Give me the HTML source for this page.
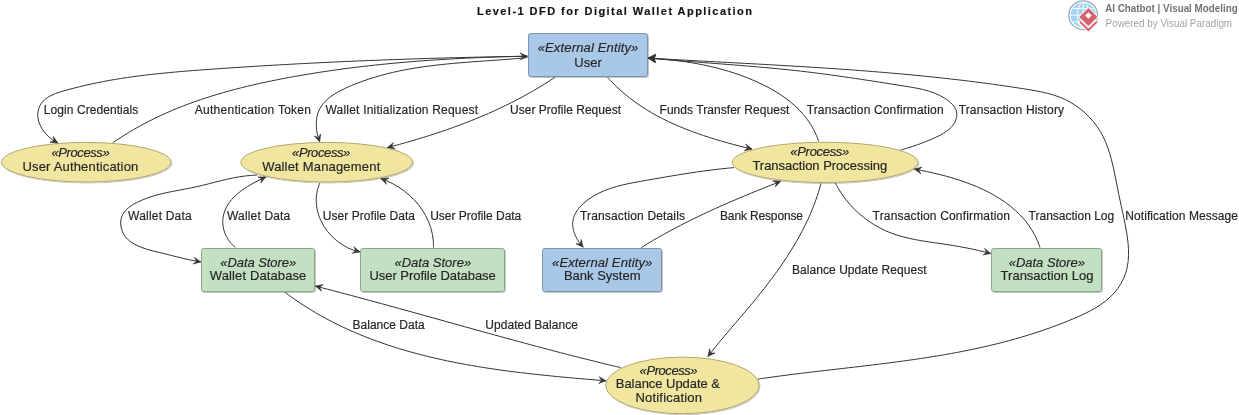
<!DOCTYPE html><html><head><meta charset="utf-8"><style>html,body{margin:0;padding:0;background:#fff;overflow:hidden;width:1239px;height:415px}svg{display:block;will-change:transform}text{font-family:"Liberation Sans",sans-serif;fill:#262626;stroke:#262626;stroke-width:0.18px}</style></head><body>
<svg width="1239" height="415" viewBox="0 0 1239 415">
<defs><filter id="sh" x="-10%" y="-10%" width="130%" height="140%"><feGaussianBlur in="SourceAlpha" stdDeviation="0.6"/><feOffset dx="0.5" dy="1" result="b"/><feComponentTransfer><feFuncA type="linear" slope="0.22"/></feComponentTransfer><feMerge><feMergeNode/><feMergeNode in="SourceGraphic"/></feMerge></filter></defs>
<text x="614.5" y="15" font-size="11" font-weight="bold" text-anchor="middle" textLength="275" lengthAdjust="spacing" style="fill:#111">Level-1 DFD for Digital Wallet Application</text>
<g fill="none" stroke="#333333" stroke-width="1">
<path d="M527.40,56.20 C526.39,56.22 523.36,56.26 521.35,56.30 C519.33,56.33 517.31,56.36 515.29,56.40 C513.27,56.43 511.25,56.47 509.23,56.51 C507.21,56.54 505.19,56.58 503.17,56.62 C501.15,56.66 499.13,56.70 497.11,56.74 C495.09,56.78 493.07,56.82 491.04,56.86 C489.02,56.90 487.00,56.94 484.98,56.99 C482.95,57.03 480.93,57.08 478.91,57.12 C476.88,57.17 474.86,57.21 472.84,57.26 C470.81,57.31 468.79,57.35 466.77,57.40 C464.74,57.45 462.72,57.50 460.69,57.55 C458.67,57.61 456.64,57.66 454.62,57.71 C452.59,57.76 450.57,57.82 448.54,57.87 C446.52,57.93 444.49,57.98 442.46,58.04 C440.44,58.10 438.41,58.15 436.39,58.21 C434.36,58.27 432.33,58.33 430.31,58.39 C428.28,58.45 426.25,58.51 424.23,58.57 C422.20,58.64 420.17,58.70 418.15,58.77 C416.12,58.83 414.09,58.90 412.07,58.96 C410.04,59.03 408.01,59.10 405.98,59.16 C403.96,59.23 401.93,59.30 399.90,59.37 C397.88,59.44 395.85,59.52 393.82,59.59 C391.79,59.66 389.77,59.73 387.74,59.81 C385.71,59.88 383.68,59.96 381.66,60.04 C379.63,60.11 377.60,60.19 375.57,60.27 C373.55,60.35 371.52,60.43 369.49,60.51 C367.46,60.59 365.44,60.67 363.41,60.76 C361.38,60.84 359.36,60.93 357.33,61.01 C355.30,61.10 353.27,61.18 351.25,61.27 C349.22,61.36 347.19,61.45 345.17,61.54 C343.14,61.63 341.11,61.72 339.09,61.81 C337.06,61.90 335.04,62.00 333.01,62.09 C330.98,62.18 328.96,62.28 326.93,62.38 C324.91,62.47 322.88,62.57 320.86,62.67 C318.83,62.77 316.81,62.87 314.78,62.97 C312.76,63.07 310.73,63.17 308.71,63.28 C306.68,63.38 304.66,63.49 302.64,63.59 C300.61,63.70 298.59,63.80 296.56,63.91 C294.54,64.02 292.52,64.13 290.50,64.24 C288.47,64.35 286.45,64.46 284.43,64.58 C282.41,64.69 280.38,64.80 278.36,64.92 C276.34,65.04 274.32,65.15 272.30,65.27 C270.28,65.39 268.26,65.51 266.24,65.63 C264.22,65.75 262.20,65.87 260.18,65.99 C258.16,66.12 256.14,66.24 254.12,66.36 C252.10,66.49 250.09,66.62 248.07,66.74 C246.05,66.87 244.03,67.00 242.02,67.13 C240.00,67.26 237.98,67.39 235.97,67.53 C233.95,67.66 231.94,67.79 229.92,67.93 C227.91,68.06 225.89,68.20 223.88,68.34 C221.86,68.48 219.85,68.62 217.84,68.76 C215.82,68.90 213.81,69.04 211.80,69.18 C209.79,69.33 207.78,69.47 205.77,69.62 C203.76,69.76 201.75,69.91 199.74,70.06 C197.73,70.21 195.72,70.36 193.71,70.52 C191.70,70.67 189.69,70.83 187.68,70.99 C185.68,71.15 183.67,71.31 181.66,71.48 C179.65,71.65 177.65,71.82 175.64,72.00 C173.63,72.18 171.63,72.36 169.62,72.55 C167.61,72.73 165.61,72.93 163.60,73.13 C161.60,73.32 159.59,73.53 157.59,73.74 C155.58,73.95 153.58,74.17 151.57,74.39 C149.56,74.62 147.56,74.85 145.55,75.09 C143.55,75.33 141.54,75.58 139.54,75.84 C137.53,76.10 135.53,76.36 133.52,76.64 C131.52,76.91 129.51,77.20 127.51,77.49 C125.50,77.78 123.50,78.09 121.49,78.40 C119.48,78.72 117.48,79.04 115.47,79.38 C113.47,79.71 111.46,80.06 109.45,80.42 C107.45,80.78 105.44,81.15 103.43,81.53 C101.42,81.92 99.42,82.31 97.41,82.72 C95.40,83.13 93.39,83.55 91.38,83.99 C89.37,84.42 87.36,84.87 85.35,85.34 C83.34,85.80 81.33,86.28 79.32,86.77 C77.31,87.27 75.30,87.77 73.29,88.30 C71.28,88.82 69.26,89.36 67.25,89.92 C65.24,90.48 63.20,91.03 61.22,91.65 C59.24,92.26 57.25,92.89 55.37,93.62 C53.49,94.36 51.63,95.13 49.94,96.06 C48.25,96.98 46.63,97.98 45.21,99.17 C43.79,100.35 42.49,101.66 41.43,103.17 C40.38,104.68 39.48,106.42 38.87,108.22 C38.26,110.02 37.86,112.02 37.76,113.97 C37.67,115.93 37.88,117.97 38.32,119.94 C38.76,121.91 39.51,123.90 40.41,125.78 C41.31,127.66 42.46,129.52 43.72,131.23 C44.98,132.94 46.45,134.57 47.96,136.04 C49.47,137.50 51.14,138.84 52.78,140.00 C54.42,141.16 56.96,142.50 57.80,143.00"/>
<path d="M112.80,142.80 C113.65,142.22 116.21,140.46 117.93,139.32 C119.64,138.19 121.37,137.07 123.11,135.97 C124.84,134.87 126.59,133.79 128.34,132.73 C130.09,131.67 131.85,130.62 133.62,129.60 C135.39,128.57 137.17,127.57 138.95,126.58 C140.73,125.59 142.53,124.62 144.33,123.66 C146.13,122.71 147.93,121.77 149.75,120.85 C151.56,119.93 153.38,119.03 155.21,118.14 C157.04,117.25 158.88,116.38 160.72,115.53 C162.56,114.67 164.41,113.83 166.27,113.01 C168.12,112.19 169.98,111.38 171.85,110.59 C173.72,109.79 175.60,109.02 177.48,108.25 C179.36,107.49 181.24,106.74 183.13,106.01 C185.03,105.27 186.92,104.55 188.83,103.84 C190.73,103.14 192.64,102.44 194.55,101.76 C196.47,101.08 198.39,100.42 200.31,99.76 C202.23,99.11 204.16,98.47 206.10,97.84 C208.03,97.21 209.97,96.59 211.91,95.99 C213.86,95.38 215.80,94.79 217.75,94.21 C219.71,93.63 221.66,93.06 223.62,92.50 C225.58,91.94 227.54,91.39 229.51,90.85 C231.48,90.32 233.45,89.79 235.42,89.27 C237.40,88.76 239.37,88.25 241.35,87.75 C243.33,87.25 245.32,86.77 247.30,86.29 C249.29,85.81 251.28,85.34 253.27,84.88 C255.27,84.42 257.26,83.97 259.26,83.52 C261.25,83.08 263.25,82.65 265.26,82.22 C267.26,81.79 269.26,81.37 271.27,80.96 C273.27,80.55 275.28,80.14 277.29,79.74 C279.30,79.35 281.31,78.96 283.32,78.57 C285.33,78.19 287.35,77.81 289.36,77.44 C291.38,77.07 293.39,76.70 295.41,76.34 C297.43,75.98 299.44,75.63 301.46,75.28 C303.48,74.93 305.50,74.59 307.52,74.25 C309.54,73.92 311.56,73.59 313.59,73.26 C315.61,72.94 317.63,72.62 319.66,72.31 C321.68,71.99 323.71,71.69 325.73,71.38 C327.76,71.08 329.79,70.79 331.82,70.50 C333.84,70.20 335.87,69.92 337.90,69.64 C339.93,69.36 341.96,69.08 343.99,68.81 C346.03,68.55 348.06,68.28 350.09,68.02 C352.12,67.76 354.15,67.51 356.19,67.26 C358.22,67.01 360.26,66.77 362.29,66.53 C364.33,66.29 366.36,66.06 368.40,65.83 C370.43,65.60 372.47,65.37 374.51,65.15 C376.54,64.94 378.58,64.72 380.62,64.51 C382.66,64.30 384.69,64.10 386.73,63.90 C388.77,63.70 390.81,63.50 392.85,63.31 C394.89,63.12 396.93,62.93 398.97,62.75 C401.01,62.56 403.05,62.39 405.09,62.21 C407.13,62.04 409.17,61.87 411.21,61.70 C413.25,61.54 415.29,61.38 417.33,61.22 C419.37,61.06 421.41,60.91 423.46,60.76 C425.50,60.61 427.54,60.47 429.58,60.33 C431.62,60.19 433.66,60.05 435.70,59.92 C437.75,59.78 439.79,59.65 441.83,59.53 C443.87,59.40 445.91,59.28 447.95,59.16 C449.99,59.04 452.03,58.93 454.08,58.82 C456.12,58.71 458.16,58.60 460.20,58.50 C462.24,58.39 464.28,58.29 466.32,58.20 C468.36,58.10 470.40,58.01 472.44,57.91 C474.48,57.82 476.52,57.74 478.56,57.65 C480.59,57.57 482.63,57.49 484.67,57.41 C486.71,57.33 488.75,57.26 490.78,57.19 C492.82,57.11 494.86,57.05 496.90,56.98 C498.93,56.91 500.97,56.85 503.00,56.79 C505.04,56.73 507.07,56.67 509.11,56.62 C511.14,56.56 513.18,56.51 515.21,56.46 C517.24,56.41 519.27,56.37 521.31,56.32 C523.34,56.28 526.38,56.22 527.40,56.20"/>
<path d="M527.40,57.60 C526.38,57.69 523.32,57.99 521.28,58.17 C519.23,58.35 517.19,58.53 515.14,58.70 C513.10,58.87 511.05,59.03 509.00,59.19 C506.95,59.35 504.90,59.51 502.85,59.66 C500.80,59.81 498.74,59.96 496.69,60.11 C494.64,60.25 492.58,60.40 490.53,60.54 C488.48,60.69 486.42,60.83 484.37,60.97 C482.31,61.12 480.26,61.26 478.20,61.41 C476.15,61.56 474.09,61.71 472.04,61.86 C469.99,62.01 467.93,62.17 465.88,62.33 C463.82,62.49 461.77,62.66 459.72,62.83 C457.67,63.00 455.62,63.18 453.57,63.36 C451.52,63.55 449.47,63.74 447.42,63.94 C445.37,64.14 443.33,64.35 441.28,64.57 C439.24,64.79 437.20,65.02 435.16,65.26 C433.12,65.50 431.08,65.75 429.04,66.02 C427.00,66.28 424.97,66.56 422.94,66.85 C420.91,67.14 418.88,67.45 416.85,67.77 C414.82,68.09 412.80,68.42 410.78,68.78 C408.76,69.13 406.74,69.50 404.72,69.88 C402.71,70.27 400.70,70.67 398.69,71.10 C396.68,71.52 394.68,71.96 392.68,72.43 C390.68,72.89 388.68,73.37 386.69,73.88 C384.69,74.39 382.70,74.91 380.72,75.46 C378.73,76.02 376.75,76.59 374.78,77.19 C372.80,77.79 370.83,78.41 368.87,79.06 C366.90,79.71 364.94,80.38 362.98,81.08 C361.02,81.78 359.07,82.51 357.13,83.27 C355.18,84.03 353.24,84.81 351.31,85.63 C349.37,86.44 347.43,87.28 345.52,88.17 C343.62,89.05 341.71,89.96 339.87,90.94 C338.04,91.91 336.22,92.92 334.50,94.01 C332.78,95.10 331.11,96.25 329.56,97.48 C328.00,98.71 326.52,100.00 325.18,101.40 C323.85,102.80 322.60,104.27 321.53,105.86 C320.46,107.45 319.51,109.13 318.75,110.94 C317.99,112.75 317.39,114.68 316.98,116.71 C316.58,118.73 316.37,120.93 316.30,123.10 C316.24,125.27 316.37,127.54 316.61,129.71 C316.86,131.88 317.27,134.08 317.79,136.09 C318.30,138.11 319.38,140.85 319.70,141.80"/>
<path d="M554.90,77.30 C554.02,77.88 551.39,79.63 549.63,80.77 C547.86,81.92 546.09,83.04 544.31,84.16 C542.53,85.27 540.73,86.36 538.94,87.45 C537.14,88.53 535.33,89.60 533.52,90.65 C531.70,91.71 529.88,92.74 528.05,93.77 C526.23,94.80 524.39,95.81 522.55,96.80 C520.70,97.80 518.85,98.78 516.99,99.75 C515.14,100.72 513.27,101.68 511.40,102.63 C509.53,103.57 507.65,104.50 505.77,105.42 C503.89,106.34 502.00,107.24 500.10,108.13 C498.21,109.02 496.30,109.90 494.40,110.77 C492.49,111.64 490.57,112.50 488.66,113.34 C486.74,114.18 484.81,115.01 482.88,115.84 C480.95,116.66 479.02,117.46 477.08,118.26 C475.14,119.06 473.20,119.85 471.25,120.62 C469.30,121.40 467.34,122.16 465.38,122.91 C463.43,123.67 461.46,124.41 459.50,125.14 C457.53,125.88 455.56,126.60 453.59,127.31 C451.61,128.02 449.63,128.73 447.65,129.42 C445.67,130.11 443.68,130.79 441.69,131.47 C439.71,132.14 437.71,132.80 435.72,133.46 C433.72,134.12 431.73,134.76 429.72,135.40 C427.72,136.04 425.72,136.66 423.71,137.28 C421.71,137.90 419.70,138.52 417.69,139.12 C415.68,139.72 413.67,140.32 411.65,140.91 C409.64,141.49 407.62,142.07 405.60,142.65 C403.58,143.22 401.56,143.78 399.54,144.34 C397.52,144.90 395.50,145.45 393.47,145.99 C391.45,146.53 388.41,147.33 387.40,147.60"/>
<path d="M607.60,77.40 C608.33,78.18 610.48,80.56 611.96,82.09 C613.43,83.63 614.94,85.12 616.46,86.58 C617.99,88.05 619.54,89.47 621.11,90.87 C622.69,92.27 624.28,93.63 625.90,94.97 C627.52,96.30 629.16,97.60 630.82,98.87 C632.48,100.14 634.16,101.38 635.86,102.60 C637.56,103.81 639.28,104.99 641.01,106.15 C642.75,107.30 644.51,108.43 646.28,109.53 C648.05,110.63 649.84,111.70 651.65,112.75 C653.45,113.80 655.28,114.82 657.11,115.82 C658.95,116.81 660.80,117.78 662.67,118.73 C664.53,119.68 666.41,120.61 668.30,121.51 C670.19,122.41 672.10,123.29 674.01,124.15 C675.93,125.01 677.85,125.84 679.79,126.66 C681.73,127.47 683.68,128.27 685.63,129.05 C687.59,129.82 689.55,130.58 691.53,131.32 C693.50,132.06 695.48,132.78 697.47,133.48 C699.46,134.19 701.46,134.87 703.46,135.54 C705.46,136.21 707.46,136.87 709.48,137.50 C711.49,138.14 713.50,138.77 715.52,139.38 C717.54,139.99 719.57,140.59 721.59,141.17 C723.61,141.75 725.64,142.32 727.67,142.88 C729.70,143.44 731.73,143.99 733.76,144.53 C735.79,145.06 737.82,145.59 739.85,146.11 C741.88,146.62 743.91,147.13 745.93,147.63 C747.96,148.13 750.99,148.85 752.00,149.10"/>
<path d="M818.70,141.40 C818.32,140.39 817.24,137.32 816.40,135.36 C815.56,133.40 814.65,131.49 813.67,129.64 C812.70,127.79 811.66,125.99 810.56,124.25 C809.46,122.50 808.29,120.80 807.08,119.16 C805.86,117.51 804.58,115.91 803.25,114.36 C801.93,112.81 800.55,111.30 799.12,109.84 C797.69,108.38 796.22,106.97 794.70,105.60 C793.18,104.22 791.62,102.89 790.02,101.60 C788.42,100.31 786.78,99.07 785.11,97.86 C783.43,96.64 781.72,95.47 779.99,94.34 C778.25,93.20 776.48,92.10 774.69,91.04 C772.89,89.97 771.07,88.94 769.23,87.94 C767.40,86.95 765.53,85.98 763.66,85.04 C761.78,84.11 759.88,83.20 757.98,82.33 C756.07,81.45 754.15,80.60 752.21,79.78 C750.28,78.96 748.33,78.17 746.37,77.40 C744.41,76.64 742.44,75.90 740.46,75.19 C738.48,74.48 736.48,73.79 734.48,73.13 C732.48,72.47 730.47,71.84 728.45,71.23 C726.43,70.62 724.40,70.03 722.37,69.47 C720.34,68.91 718.30,68.37 716.25,67.86 C714.20,67.34 712.15,66.85 710.10,66.38 C708.04,65.91 705.98,65.47 703.91,65.04 C701.85,64.61 699.78,64.21 697.71,63.83 C695.65,63.44 693.57,63.08 691.50,62.73 C689.43,62.39 687.36,62.06 685.29,61.76 C683.21,61.45 681.14,61.17 679.07,60.90 C677.00,60.63 674.93,60.38 672.87,60.14 C670.80,59.91 668.74,59.69 666.68,59.49 C664.62,59.29 662.57,59.11 660.52,58.94 C658.47,58.77 656.43,58.61 654.39,58.47 C652.35,58.33 649.32,58.16 648.30,58.10"/>
<path d="M900.30,150.10 C901.31,149.81 904.40,148.94 906.37,148.35 C908.34,147.76 910.25,147.17 912.15,146.56 C914.04,145.95 915.89,145.33 917.75,144.67 C919.60,144.02 921.43,143.35 923.29,142.63 C925.15,141.91 927.00,141.17 928.90,140.37 C930.80,139.57 932.75,138.74 934.70,137.84 C936.65,136.93 938.69,135.99 940.61,134.94 C942.53,133.89 944.47,132.78 946.21,131.54 C947.94,130.30 949.63,128.97 951.03,127.49 C952.43,126.01 953.69,124.37 954.61,122.68 C955.53,120.98 956.24,119.12 956.57,117.33 C956.90,115.53 956.95,113.65 956.58,111.91 C956.22,110.16 955.42,108.44 954.38,106.86 C953.35,105.27 951.87,103.77 950.36,102.40 C948.85,101.02 947.05,99.74 945.30,98.59 C943.55,97.44 941.72,96.41 939.87,95.48 C938.03,94.54 936.14,93.73 934.23,92.98 C932.31,92.24 930.36,91.59 928.40,91.00 C926.43,90.40 924.44,89.90 922.43,89.42 C920.43,88.94 918.40,88.54 916.37,88.14 C914.34,87.75 912.30,87.41 910.25,87.06 C908.21,86.72 906.16,86.40 904.12,86.07 C902.08,85.75 900.04,85.42 898.00,85.10 C895.97,84.78 893.93,84.45 891.90,84.13 C889.87,83.81 887.84,83.49 885.82,83.17 C883.79,82.85 881.77,82.53 879.75,82.21 C877.72,81.89 875.71,81.57 873.69,81.26 C871.67,80.95 869.65,80.63 867.64,80.32 C865.62,80.01 863.61,79.70 861.60,79.40 C859.59,79.09 857.58,78.79 855.57,78.49 C853.56,78.19 851.55,77.89 849.54,77.59 C847.53,77.30 845.52,77.01 843.51,76.72 C841.50,76.43 839.49,76.14 837.49,75.86 C835.48,75.58 833.47,75.30 831.46,75.02 C829.45,74.75 827.44,74.48 825.43,74.21 C823.42,73.94 821.41,73.68 819.40,73.42 C817.39,73.16 815.37,72.91 813.36,72.66 C811.34,72.41 809.33,72.16 807.31,71.92 C805.29,71.68 803.27,71.44 801.25,71.21 C799.23,70.98 797.20,70.76 795.18,70.54 C793.16,70.32 791.13,70.10 789.10,69.89 C787.07,69.68 785.04,69.47 783.01,69.26 C780.98,69.06 778.95,68.86 776.92,68.66 C774.88,68.46 772.85,68.27 770.81,68.08 C768.78,67.89 766.74,67.71 764.70,67.52 C762.67,67.34 760.63,67.16 758.59,66.98 C756.55,66.80 754.51,66.63 752.47,66.45 C750.43,66.28 748.39,66.11 746.34,65.94 C744.30,65.77 742.26,65.61 740.22,65.44 C738.18,65.27 736.13,65.11 734.09,64.95 C732.05,64.79 730.00,64.63 727.96,64.47 C725.91,64.31 723.87,64.15 721.83,63.99 C719.78,63.83 717.74,63.68 715.70,63.52 C713.65,63.36 711.61,63.21 709.57,63.05 C707.52,62.90 705.48,62.74 703.44,62.58 C701.39,62.43 699.35,62.27 697.31,62.12 C695.27,61.96 693.23,61.80 691.19,61.64 C689.15,61.49 687.11,61.33 685.07,61.17 C683.03,61.01 680.99,60.85 678.96,60.68 C676.92,60.52 674.89,60.36 672.85,60.19 C670.82,60.03 668.78,59.86 666.75,59.69 C664.72,59.52 662.69,59.35 660.66,59.17 C658.63,59.00 656.60,58.82 654.57,58.64 C652.55,58.47 649.51,58.19 648.50,58.10"/>
<path d="M758.00,379.10 C759.01,378.95 762.02,378.51 764.03,378.22 C766.05,377.93 768.06,377.64 770.07,377.36 C772.08,377.08 774.10,376.81 776.11,376.54 C778.12,376.26 780.13,375.99 782.15,375.73 C784.16,375.46 786.17,375.20 788.18,374.95 C790.19,374.69 792.21,374.43 794.22,374.18 C796.23,373.93 798.24,373.68 800.26,373.43 C802.27,373.18 804.28,372.94 806.29,372.70 C808.31,372.45 810.32,372.21 812.33,371.98 C814.34,371.74 816.35,371.50 818.36,371.26 C820.37,371.03 822.39,370.79 824.40,370.56 C826.41,370.33 828.42,370.09 830.43,369.86 C832.44,369.63 834.45,369.40 836.46,369.17 C838.47,368.93 840.48,368.70 842.49,368.47 C844.50,368.24 846.50,368.01 848.51,367.78 C850.52,367.54 852.53,367.31 854.54,367.08 C856.54,366.85 858.55,366.61 860.56,366.38 C862.56,366.14 864.57,365.90 866.58,365.66 C868.58,365.42 870.59,365.18 872.59,364.94 C874.60,364.70 876.60,364.46 878.60,364.21 C880.61,363.96 882.61,363.71 884.61,363.46 C886.61,363.21 888.61,362.95 890.61,362.70 C892.62,362.44 894.62,362.18 896.61,361.91 C898.61,361.65 900.61,361.38 902.61,361.11 C904.61,360.84 906.61,360.56 908.60,360.28 C910.60,360.00 912.59,359.72 914.59,359.43 C916.58,359.14 918.58,358.85 920.57,358.55 C922.56,358.25 924.55,357.95 926.55,357.64 C928.54,357.33 930.53,357.01 932.52,356.69 C934.51,356.37 936.49,356.05 938.48,355.72 C940.47,355.39 942.46,355.05 944.44,354.70 C946.43,354.36 948.41,354.01 950.39,353.65 C952.38,353.29 954.36,352.93 956.34,352.56 C958.32,352.19 960.30,351.81 962.28,351.42 C964.26,351.03 966.24,350.64 968.21,350.24 C970.19,349.84 972.17,349.43 974.14,349.01 C976.11,348.59 978.09,348.17 980.06,347.73 C982.03,347.29 984.00,346.85 985.97,346.40 C987.94,345.95 989.91,345.48 991.87,345.01 C993.84,344.54 995.80,344.06 997.77,343.57 C999.73,343.08 1001.69,342.58 1003.65,342.07 C1005.61,341.56 1007.57,341.04 1009.53,340.51 C1011.49,339.97 1013.45,339.43 1015.40,338.88 C1017.36,338.33 1019.31,337.76 1021.26,337.19 C1023.21,336.61 1025.17,336.03 1027.11,335.43 C1029.06,334.83 1031.01,334.22 1032.96,333.60 C1034.90,332.98 1036.85,332.35 1038.79,331.70 C1040.73,331.06 1042.67,330.40 1044.61,329.73 C1046.55,329.06 1048.49,328.37 1050.42,327.68 C1052.36,326.98 1054.29,326.27 1056.22,325.55 C1058.16,324.82 1060.09,324.09 1062.02,323.33 C1063.94,322.58 1065.87,321.82 1067.80,321.04 C1069.72,320.26 1071.65,319.47 1073.56,318.66 C1075.48,317.85 1077.40,317.02 1079.29,316.17 C1081.19,315.32 1083.07,314.45 1084.93,313.55 C1086.79,312.64 1088.63,311.72 1090.43,310.75 C1092.23,309.78 1094.01,308.79 1095.75,307.75 C1097.48,306.71 1099.18,305.63 1100.83,304.51 C1102.47,303.38 1104.08,302.21 1105.62,300.99 C1107.16,299.77 1108.66,298.50 1110.08,297.17 C1111.51,295.84 1112.88,294.46 1114.16,293.01 C1115.45,291.57 1116.67,290.06 1117.81,288.48 C1118.95,286.91 1120.01,285.27 1120.98,283.58 C1121.95,281.90 1122.84,280.15 1123.64,278.37 C1124.43,276.59 1125.13,274.75 1125.73,272.89 C1126.33,271.04 1126.83,269.14 1127.23,267.22 C1127.64,265.31 1127.93,263.36 1128.15,261.40 C1128.37,259.43 1128.49,257.45 1128.55,255.45 C1128.61,253.45 1128.58,251.43 1128.51,249.40 C1128.43,247.37 1128.27,245.33 1128.08,243.29 C1127.89,241.24 1127.63,239.19 1127.35,237.14 C1127.06,235.08 1126.73,233.02 1126.37,230.97 C1126.02,228.92 1125.63,226.87 1125.23,224.83 C1124.83,222.79 1124.41,220.75 1123.99,218.73 C1123.56,216.71 1123.13,214.70 1122.71,212.70 C1122.28,210.70 1121.85,208.71 1121.42,206.73 C1120.99,204.75 1120.57,202.77 1120.15,200.80 C1119.73,198.82 1119.31,196.85 1118.89,194.87 C1118.48,192.89 1118.08,190.91 1117.68,188.92 C1117.28,186.93 1116.90,184.94 1116.50,182.94 C1116.11,180.95 1115.72,178.95 1115.32,176.95 C1114.92,174.96 1114.52,172.96 1114.09,170.97 C1113.67,168.98 1113.23,166.99 1112.77,165.02 C1112.30,163.05 1111.82,161.08 1111.30,159.13 C1110.78,157.18 1110.23,155.24 1109.64,153.32 C1109.05,151.40 1108.43,149.50 1107.75,147.62 C1107.08,145.74 1106.36,143.87 1105.58,142.04 C1104.81,140.21 1103.98,138.40 1103.09,136.62 C1102.19,134.84 1101.24,133.09 1100.22,131.37 C1099.20,129.66 1098.10,127.97 1096.94,126.33 C1095.78,124.69 1094.54,123.08 1093.25,121.52 C1091.96,119.95 1090.61,118.43 1089.20,116.96 C1087.79,115.49 1086.32,114.07 1084.80,112.70 C1083.29,111.34 1081.72,110.02 1080.11,108.77 C1078.50,107.52 1076.84,106.32 1075.15,105.19 C1073.46,104.07 1071.72,103.00 1069.96,102.01 C1068.20,101.01 1066.40,100.09 1064.57,99.24 C1062.75,98.39 1060.89,97.62 1059.02,96.91 C1057.15,96.19 1055.25,95.55 1053.33,94.96 C1051.41,94.36 1049.48,93.83 1047.53,93.33 C1045.58,92.83 1043.61,92.38 1041.63,91.96 C1039.65,91.54 1037.66,91.16 1035.67,90.79 C1033.67,90.42 1031.67,90.08 1029.66,89.75 C1027.66,89.42 1025.65,89.10 1023.64,88.78 C1021.63,88.47 1019.62,88.15 1017.62,87.85 C1015.61,87.54 1013.60,87.23 1011.59,86.93 C1009.58,86.63 1007.57,86.34 1005.56,86.04 C1003.55,85.75 1001.54,85.46 999.53,85.18 C997.52,84.89 995.51,84.61 993.50,84.33 C991.49,84.06 989.48,83.78 987.47,83.51 C985.46,83.24 983.45,82.98 981.44,82.71 C979.43,82.45 977.41,82.19 975.40,81.94 C973.39,81.68 971.38,81.43 969.37,81.18 C967.36,80.93 965.35,80.69 963.33,80.44 C961.32,80.20 959.31,79.96 957.30,79.73 C955.29,79.49 953.27,79.26 951.26,79.03 C949.25,78.80 947.24,78.58 945.22,78.35 C943.21,78.13 941.20,77.91 939.18,77.70 C937.17,77.48 935.16,77.27 933.15,77.05 C931.13,76.84 929.12,76.64 927.10,76.43 C925.09,76.23 923.08,76.02 921.06,75.82 C919.05,75.63 917.04,75.43 915.02,75.23 C913.01,75.04 910.99,74.85 908.98,74.66 C906.96,74.47 904.95,74.29 902.93,74.10 C900.92,73.92 898.90,73.74 896.89,73.56 C894.87,73.38 892.86,73.20 890.84,73.03 C888.83,72.86 886.81,72.68 884.80,72.52 C882.78,72.35 880.77,72.18 878.75,72.01 C876.73,71.85 874.72,71.69 872.70,71.53 C870.69,71.36 868.67,71.21 866.65,71.05 C864.64,70.89 862.62,70.74 860.60,70.59 C858.59,70.43 856.57,70.28 854.55,70.13 C852.54,69.98 850.52,69.84 848.50,69.69 C846.49,69.55 844.47,69.40 842.45,69.26 C840.44,69.12 838.42,68.98 836.40,68.84 C834.38,68.70 832.37,68.57 830.35,68.43 C828.33,68.30 826.31,68.16 824.29,68.03 C822.28,67.90 820.26,67.77 818.24,67.64 C816.22,67.51 814.20,67.38 812.18,67.25 C810.17,67.12 808.15,67.00 806.13,66.87 C804.11,66.75 802.09,66.62 800.07,66.50 C798.05,66.38 796.04,66.26 794.02,66.14 C792.00,66.02 789.98,65.90 787.96,65.78 C785.94,65.66 783.92,65.54 781.90,65.43 C779.88,65.31 777.86,65.20 775.84,65.08 C773.82,64.97 771.80,64.85 769.78,64.74 C767.76,64.63 765.74,64.51 763.72,64.40 C761.70,64.29 759.68,64.18 757.66,64.07 C755.64,63.95 753.62,63.84 751.60,63.73 C749.58,63.62 747.56,63.51 745.54,63.41 C743.52,63.30 741.50,63.19 739.48,63.08 C737.46,62.97 735.44,62.86 733.42,62.75 C731.40,62.65 729.38,62.54 727.35,62.43 C725.33,62.32 723.31,62.21 721.29,62.11 C719.27,62.00 717.25,61.89 715.23,61.78 C713.21,61.68 711.18,61.57 709.16,61.46 C707.14,61.35 705.12,61.24 703.10,61.14 C701.08,61.03 699.06,60.92 697.03,60.81 C695.01,60.70 692.99,60.59 690.97,60.48 C688.95,60.37 686.92,60.26 684.90,60.15 C682.88,60.04 680.86,59.93 678.84,59.82 C676.81,59.71 674.79,59.60 672.77,59.49 C670.75,59.37 668.73,59.26 666.70,59.15 C664.68,59.03 662.66,58.92 660.64,58.80 C658.61,58.69 656.59,58.57 654.57,58.45 C652.55,58.34 649.51,58.16 648.50,58.10"/>
<path d="M256.90,175.10 C255.87,175.15 252.77,175.25 250.71,175.41 C248.66,175.57 246.61,175.79 244.57,176.05 C242.53,176.30 240.50,176.62 238.47,176.96 C236.44,177.30 234.42,177.69 232.40,178.10 C230.38,178.51 228.36,178.96 226.35,179.41 C224.34,179.87 222.33,180.36 220.33,180.85 C218.33,181.34 216.32,181.85 214.32,182.36 C212.32,182.86 210.32,183.38 208.33,183.88 C206.33,184.39 204.33,184.89 202.33,185.38 C200.34,185.86 198.34,186.34 196.34,186.79 C194.34,187.24 192.34,187.66 190.34,188.07 C188.34,188.47 186.33,188.85 184.33,189.23 C182.33,189.61 180.32,189.96 178.32,190.34 C176.32,190.71 174.31,191.08 172.31,191.48 C170.30,191.87 168.30,192.27 166.30,192.70 C164.30,193.14 162.30,193.59 160.30,194.09 C158.30,194.60 156.31,195.13 154.31,195.72 C152.32,196.31 150.33,196.94 148.34,197.64 C146.35,198.35 144.36,199.10 142.38,199.94 C140.41,200.79 138.39,201.69 136.48,202.69 C134.57,203.69 132.65,204.77 130.93,205.97 C129.21,207.17 127.56,208.46 126.19,209.89 C124.82,211.32 123.58,212.86 122.70,214.54 C121.83,216.23 121.22,218.11 120.92,220.01 C120.63,221.92 120.66,224.02 120.93,225.99 C121.20,227.95 121.77,230.00 122.52,231.81 C123.28,233.62 124.31,235.33 125.49,236.85 C126.67,238.38 128.07,239.73 129.60,240.97 C131.12,242.20 132.83,243.29 134.62,244.28 C136.40,245.28 138.34,246.15 140.32,246.95 C142.30,247.75 144.39,248.45 146.47,249.11 C148.56,249.76 150.73,250.33 152.85,250.89 C154.98,251.45 157.14,251.95 159.22,252.45 C161.30,252.96 163.36,253.44 165.35,253.92 C167.35,254.41 169.26,254.90 171.18,255.39 C173.09,255.87 174.95,256.35 176.83,256.82 C178.71,257.30 180.56,257.76 182.46,258.22 C184.36,258.67 186.26,259.11 188.23,259.54 C190.20,259.97 192.20,260.38 194.29,260.77 C196.39,261.17 199.72,261.71 200.80,261.90"/>
<path d="M235.40,247.60 C234.56,246.74 231.83,244.27 230.34,242.44 C228.86,240.61 227.56,238.62 226.49,236.60 C225.42,234.57 224.56,232.43 223.94,230.30 C223.33,228.17 222.94,225.96 222.80,223.79 C222.66,221.62 222.78,219.42 223.10,217.28 C223.43,215.14 224.00,213.01 224.75,210.97 C225.50,208.92 226.48,206.92 227.62,205.03 C228.76,203.13 230.12,201.32 231.58,199.60 C233.05,197.88 234.70,196.24 236.42,194.68 C238.14,193.13 240.01,191.65 241.91,190.25 C243.81,188.86 245.82,187.54 247.82,186.29 C249.83,185.05 251.91,183.88 253.94,182.78 C255.98,181.68 258.05,180.65 260.04,179.69 C262.04,178.73 264.92,177.45 265.90,177.00"/>
<path d="M319.70,183.20 C319.34,184.26 318.09,187.41 317.55,189.54 C317.00,191.66 316.63,193.80 316.42,195.93 C316.20,198.06 316.16,200.19 316.26,202.31 C316.35,204.42 316.61,206.53 317.00,208.60 C317.38,210.67 317.92,212.73 318.57,214.75 C319.23,216.76 320.02,218.74 320.93,220.67 C321.83,222.60 322.86,224.49 323.99,226.31 C325.12,228.13 326.37,229.90 327.70,231.59 C329.03,233.28 330.48,234.91 331.99,236.44 C333.51,237.98 335.13,239.44 336.81,240.80 C338.49,242.16 340.26,243.43 342.08,244.59 C343.90,245.75 345.80,246.82 347.74,247.75 C349.69,248.69 351.70,249.52 353.74,250.21 C355.78,250.90 358.96,251.62 360.00,251.90"/>
<path d="M433.50,247.60 C433.47,246.47 433.49,243.05 433.31,240.82 C433.13,238.59 432.82,236.38 432.40,234.22 C431.98,232.05 431.44,229.91 430.81,227.82 C430.17,225.73 429.42,223.67 428.58,221.66 C427.73,219.64 426.79,217.67 425.75,215.75 C424.72,213.83 423.59,211.95 422.38,210.13 C421.17,208.31 419.87,206.54 418.50,204.82 C417.14,203.11 415.68,201.45 414.17,199.85 C412.65,198.26 411.06,196.72 409.41,195.25 C407.76,193.78 406.04,192.37 404.28,191.03 C402.51,189.70 400.69,188.43 398.82,187.23 C396.95,186.04 395.03,184.92 393.07,183.88 C391.12,182.84 389.12,181.87 387.09,180.99 C385.06,180.11 381.93,179.00 380.90,178.60"/>
<path d="M734.00,167.60 C732.95,167.70 729.79,167.98 727.69,168.18 C725.59,168.39 723.50,168.61 721.42,168.84 C719.33,169.06 717.26,169.30 715.18,169.55 C713.11,169.80 711.04,170.06 708.98,170.32 C706.91,170.59 704.85,170.86 702.79,171.15 C700.73,171.43 698.68,171.72 696.63,172.02 C694.58,172.32 692.53,172.63 690.48,172.94 C688.43,173.25 686.38,173.57 684.34,173.89 C682.29,174.22 680.25,174.54 678.20,174.88 C676.15,175.21 674.11,175.55 672.06,175.89 C670.02,176.24 667.97,176.58 665.92,176.93 C663.87,177.28 661.82,177.63 659.76,177.99 C657.71,178.34 655.65,178.70 653.59,179.06 C651.53,179.42 649.47,179.78 647.40,180.14 C645.34,180.50 643.26,180.85 641.19,181.22 C639.12,181.59 637.04,181.95 634.96,182.34 C632.89,182.73 630.82,183.13 628.75,183.56 C626.69,184.00 624.63,184.44 622.59,184.94 C620.55,185.43 618.51,185.95 616.49,186.52 C614.48,187.10 612.47,187.71 610.50,188.38 C608.52,189.06 606.56,189.78 604.62,190.57 C602.69,191.36 600.78,192.21 598.90,193.14 C597.03,194.08 595.17,195.07 593.36,196.16 C591.55,197.25 589.74,198.43 588.03,199.68 C586.33,200.94 584.64,202.29 583.11,203.71 C581.57,205.13 580.11,206.63 578.84,208.21 C577.57,209.79 576.41,211.45 575.50,213.17 C574.58,214.90 573.82,216.70 573.35,218.56 C572.87,220.43 572.63,222.38 572.65,224.36 C572.68,226.33 573.00,228.41 573.51,230.43 C574.02,232.45 574.80,234.52 575.72,236.48 C576.63,238.44 577.78,240.39 579.02,242.18 C580.27,243.96 582.51,246.36 583.20,247.20"/>
<path d="M641.20,247.60 C642.11,247.04 644.85,245.33 646.69,244.22 C648.53,243.10 650.37,242.00 652.22,240.91 C654.07,239.82 655.93,238.74 657.79,237.67 C659.66,236.60 661.52,235.55 663.40,234.50 C665.28,233.45 667.16,232.42 669.04,231.40 C670.93,230.37 672.82,229.36 674.72,228.35 C676.62,227.35 678.52,226.35 680.43,225.37 C682.34,224.38 684.25,223.41 686.17,222.44 C688.09,221.48 690.01,220.52 691.94,219.57 C693.87,218.62 695.80,217.69 697.74,216.75 C699.67,215.82 701.61,214.90 703.56,213.99 C705.50,213.07 707.45,212.16 709.40,211.26 C711.35,210.36 713.31,209.47 715.27,208.58 C717.23,207.70 719.19,206.82 721.15,205.95 C723.12,205.08 725.09,204.21 727.06,203.35 C729.03,202.49 731.00,201.64 732.98,200.79 C734.95,199.94 736.93,199.10 738.91,198.26 C740.89,197.43 742.87,196.59 744.86,195.77 C746.84,194.94 748.83,194.12 750.81,193.30 C752.80,192.48 754.79,191.67 756.78,190.86 C758.77,190.05 760.76,189.24 762.75,188.44 C764.75,187.64 766.74,186.84 768.73,186.04 C770.73,185.25 772.72,184.45 774.72,183.66 C776.71,182.87 779.70,181.69 780.70,181.30"/>
<path d="M820.90,183.60 C820.62,184.62 819.81,187.68 819.21,189.70 C818.62,191.72 817.99,193.73 817.33,195.73 C816.67,197.73 815.98,199.72 815.26,201.69 C814.55,203.67 813.80,205.63 813.02,207.58 C812.25,209.54 811.45,211.48 810.62,213.41 C809.79,215.34 808.93,217.26 808.05,219.16 C807.17,221.07 806.26,222.97 805.34,224.86 C804.41,226.74 803.46,228.62 802.48,230.48 C801.51,232.35 800.51,234.20 799.49,236.05 C798.48,237.89 797.44,239.73 796.38,241.55 C795.33,243.38 794.25,245.19 793.16,247.00 C792.07,248.80 790.96,250.59 789.83,252.38 C788.70,254.16 787.56,255.94 786.40,257.70 C785.24,259.47 784.07,261.23 782.88,262.97 C781.70,264.72 780.50,266.46 779.29,268.19 C778.07,269.91 776.85,271.63 775.61,273.34 C774.38,275.05 773.13,276.76 771.87,278.45 C770.61,280.14 769.33,281.83 768.05,283.51 C766.77,285.18 765.48,286.85 764.18,288.51 C762.88,290.17 761.57,291.82 760.25,293.47 C758.93,295.12 757.60,296.75 756.27,298.39 C754.94,300.02 753.60,301.65 752.25,303.27 C750.91,304.89 749.55,306.50 748.20,308.11 C746.84,309.73 745.48,311.33 744.12,312.94 C742.75,314.54 741.39,316.14 740.02,317.74 C738.65,319.34 737.28,320.94 735.92,322.53 C734.55,324.13 733.18,325.73 731.82,327.33 C730.45,328.93 729.09,330.53 727.73,332.13 C726.37,333.74 725.02,335.34 723.67,336.96 C722.33,338.57 720.98,340.18 719.65,341.81 C718.32,343.43 716.99,345.05 715.67,346.69 C714.36,348.32 713.05,349.97 711.75,351.62 C710.46,353.27 708.54,355.77 707.90,356.60"/>
<path d="M835.40,183.20 C835.92,184.13 837.41,186.96 838.50,188.79 C839.59,190.62 840.74,192.42 841.94,194.18 C843.15,195.93 844.41,197.66 845.72,199.34 C847.03,201.02 848.39,202.66 849.80,204.26 C851.21,205.85 852.67,207.41 854.17,208.92 C855.67,210.43 857.22,211.89 858.81,213.31 C860.40,214.72 862.03,216.09 863.70,217.41 C865.37,218.73 867.08,220.00 868.82,221.21 C870.56,222.42 872.34,223.59 874.14,224.69 C875.95,225.79 877.79,226.85 879.65,227.84 C881.52,228.83 883.41,229.76 885.33,230.63 C887.25,231.50 889.19,232.31 891.16,233.06 C893.12,233.82 895.11,234.50 897.11,235.14 C899.11,235.78 901.14,236.35 903.17,236.90 C905.21,237.44 907.26,237.93 909.32,238.39 C911.39,238.85 913.46,239.27 915.55,239.67 C917.63,240.07 919.73,240.43 921.83,240.79 C923.93,241.14 926.03,241.46 928.14,241.79 C930.25,242.11 932.36,242.41 934.47,242.72 C936.59,243.03 938.70,243.33 940.81,243.64 C942.91,243.95 945.02,244.26 947.12,244.59 C949.22,244.91 951.32,245.25 953.41,245.59 C955.51,245.94 957.60,246.30 959.68,246.67 C961.77,247.04 963.85,247.42 965.93,247.82 C968.01,248.22 970.08,248.64 972.15,249.07 C974.22,249.51 976.29,249.95 978.36,250.43 C980.42,250.90 982.48,251.39 984.54,251.90 C986.59,252.41 989.67,253.23 990.70,253.50"/>
<path d="M1040.00,247.60 C1039.61,246.55 1038.50,243.33 1037.64,241.28 C1036.78,239.23 1035.85,237.24 1034.85,235.31 C1033.85,233.37 1032.77,231.50 1031.64,229.67 C1030.51,227.85 1029.31,226.08 1028.06,224.37 C1026.80,222.65 1025.48,220.99 1024.11,219.38 C1022.74,217.77 1021.31,216.20 1019.83,214.69 C1018.36,213.18 1016.83,211.71 1015.25,210.30 C1013.68,208.88 1012.05,207.51 1010.39,206.18 C1008.73,204.85 1007.02,203.57 1005.28,202.33 C1003.53,201.09 1001.75,199.89 999.93,198.73 C998.12,197.58 996.27,196.46 994.39,195.38 C992.51,194.30 990.60,193.26 988.66,192.26 C986.73,191.26 984.77,190.29 982.79,189.36 C980.81,188.43 978.80,187.53 976.78,186.67 C974.76,185.81 972.71,184.98 970.66,184.18 C968.60,183.38 966.53,182.62 964.45,181.88 C962.37,181.15 960.28,180.44 958.18,179.76 C956.08,179.09 953.97,178.44 951.86,177.81 C949.75,177.19 947.64,176.60 945.53,176.02 C943.41,175.45 941.30,174.91 939.19,174.38 C937.08,173.86 934.97,173.36 932.88,172.88 C930.78,172.40 928.69,171.94 926.61,171.50 C924.53,171.07 922.46,170.65 920.41,170.25 C918.36,169.85 915.32,169.29 914.30,169.10"/>
<path d="M284.60,292.00 C285.43,292.62 287.93,294.50 289.60,295.72 C291.28,296.94 292.97,298.13 294.67,299.32 C296.36,300.50 298.07,301.66 299.78,302.80 C301.50,303.95 303.22,305.07 304.95,306.18 C306.69,307.29 308.43,308.38 310.17,309.45 C311.92,310.52 313.68,311.58 315.45,312.61 C317.21,313.65 318.98,314.67 320.76,315.67 C322.55,316.67 324.33,317.66 326.13,318.63 C327.93,319.60 329.73,320.55 331.54,321.48 C333.36,322.42 335.17,323.34 337.00,324.24 C338.83,325.15 340.66,326.03 342.50,326.91 C344.34,327.78 346.19,328.63 348.04,329.48 C349.90,330.32 351.76,331.14 353.62,331.95 C355.49,332.77 357.36,333.56 359.24,334.34 C361.12,335.12 363.01,335.89 364.90,336.64 C366.79,337.40 368.69,338.14 370.59,338.86 C372.50,339.59 374.41,340.30 376.32,340.99 C378.24,341.69 380.16,342.37 382.08,343.04 C384.01,343.72 385.94,344.37 387.88,345.02 C389.81,345.66 391.76,346.29 393.70,346.91 C395.65,347.53 397.60,348.14 399.55,348.73 C401.51,349.33 403.47,349.91 405.43,350.48 C407.40,351.05 409.37,351.61 411.34,352.16 C413.31,352.71 415.29,353.24 417.27,353.77 C419.25,354.29 421.24,354.81 423.23,355.31 C425.22,355.81 427.21,356.31 429.21,356.79 C431.20,357.27 433.20,357.74 435.20,358.20 C437.21,358.67 439.21,359.12 441.22,359.56 C443.23,360.00 445.24,360.43 447.26,360.86 C449.27,361.28 451.29,361.69 453.31,362.10 C455.33,362.50 457.35,362.90 459.37,363.29 C461.40,363.67 463.43,364.05 465.46,364.42 C467.49,364.79 469.52,365.15 471.55,365.51 C473.58,365.86 475.62,366.20 477.65,366.54 C479.69,366.88 481.73,367.21 483.77,367.53 C485.81,367.86 487.85,368.17 489.89,368.48 C491.94,368.79 493.98,369.09 496.02,369.38 C498.07,369.68 500.11,369.97 502.16,370.25 C504.21,370.53 506.25,370.81 508.30,371.08 C510.35,371.35 512.40,371.61 514.45,371.87 C516.49,372.13 518.54,372.38 520.59,372.62 C522.64,372.87 524.69,373.11 526.74,373.35 C528.79,373.59 530.84,373.82 532.89,374.05 C534.93,374.27 536.98,374.49 539.03,374.71 C541.08,374.93 543.13,375.14 545.17,375.35 C547.22,375.56 549.26,375.77 551.31,375.97 C553.35,376.18 555.40,376.37 557.44,376.57 C559.48,376.76 561.52,376.96 563.56,377.15 C565.60,377.34 567.64,377.52 569.67,377.70 C571.71,377.89 573.75,378.07 575.78,378.25 C577.81,378.43 579.84,378.60 581.87,378.78 C583.90,378.95 585.93,379.13 587.95,379.30 C589.97,379.47 592.00,379.64 594.02,379.81 C596.03,379.97 598.05,380.14 600.07,380.31 C602.08,380.47 605.09,380.72 606.10,380.80"/>
<path d="M620.70,367.60 C619.69,367.36 616.68,366.65 614.67,366.17 C612.66,365.69 610.65,365.21 608.64,364.73 C606.63,364.24 604.63,363.76 602.62,363.27 C600.61,362.78 598.61,362.29 596.60,361.79 C594.60,361.30 592.59,360.80 590.59,360.30 C588.58,359.81 586.58,359.30 584.57,358.80 C582.57,358.30 580.57,357.79 578.57,357.29 C576.56,356.78 574.56,356.27 572.56,355.76 C570.56,355.25 568.56,354.73 566.56,354.22 C564.56,353.70 562.56,353.19 560.56,352.67 C558.56,352.15 556.56,351.63 554.57,351.11 C552.57,350.58 550.57,350.06 548.57,349.53 C546.58,349.01 544.58,348.48 542.58,347.95 C540.59,347.42 538.59,346.89 536.60,346.36 C534.60,345.83 532.61,345.30 530.61,344.76 C528.62,344.23 526.62,343.69 524.63,343.15 C522.63,342.62 520.64,342.08 518.65,341.54 C516.65,341.00 514.66,340.46 512.67,339.92 C510.67,339.37 508.68,338.83 506.69,338.29 C504.70,337.74 502.70,337.20 500.71,336.65 C498.72,336.11 496.73,335.56 494.74,335.01 C492.75,334.47 490.75,333.92 488.76,333.37 C486.77,332.82 484.78,332.27 482.79,331.72 C480.80,331.17 478.81,330.62 476.82,330.07 C474.83,329.52 472.84,328.96 470.85,328.41 C468.86,327.86 466.87,327.31 464.88,326.75 C462.89,326.20 460.90,325.65 458.91,325.09 C456.92,324.54 454.93,323.99 452.94,323.43 C450.95,322.88 448.96,322.32 446.97,321.77 C444.98,321.22 442.99,320.66 441.00,320.11 C439.01,319.55 437.02,319.00 435.03,318.44 C433.04,317.89 431.05,317.34 429.06,316.78 C427.07,316.23 425.08,315.68 423.09,315.12 C421.10,314.57 419.11,314.02 417.12,313.46 C415.13,312.91 413.14,312.36 411.15,311.81 C409.16,311.26 407.17,310.71 405.18,310.16 C403.19,309.61 401.20,309.06 399.21,308.51 C397.22,307.96 395.22,307.41 393.23,306.86 C391.24,306.31 389.25,305.77 387.26,305.22 C385.26,304.68 383.27,304.13 381.28,303.59 C379.29,303.04 377.30,302.50 375.30,301.96 C373.31,301.41 371.32,300.87 369.32,300.33 C367.33,299.79 365.33,299.25 363.34,298.72 C361.35,298.18 359.35,297.64 357.36,297.11 C355.36,296.57 353.37,296.04 351.37,295.51 C349.37,294.97 347.38,294.44 345.38,293.91 C343.39,293.39 341.39,292.86 339.39,292.33 C337.39,291.81 335.40,291.28 333.40,290.76 C331.40,290.23 329.40,289.71 327.40,289.19 C325.40,288.68 323.40,288.16 321.40,287.64 C319.40,287.13 316.40,286.36 315.40,286.10"/>
</g>
<rect x="528.5" y="33.5" width="119.0" height="43.0" rx="2.2" fill="#a9c8e7" stroke="#7b93ae" stroke-width="1" filter="url(#sh)"/>
<text x="588.00" y="52.00" font-size="13" text-anchor="middle" font-style="italic" textLength="100.7" lengthAdjust="spacing">«External Entity»</text>
<text x="588.00" y="66.70" font-size="13" text-anchor="middle">User</text>
<rect x="201.5" y="248.5" width="113.0" height="43.0" rx="2.2" fill="#c3e0c2" stroke="#8aa88a" stroke-width="1" filter="url(#sh)"/>
<text x="258.20" y="266.70" font-size="13" text-anchor="middle" font-style="italic" textLength="75.9" lengthAdjust="spacing">«Data Store»</text>
<text x="258.10" y="280.30" font-size="13" text-anchor="middle" textLength="96.5" lengthAdjust="spacing">Wallet Database</text>
<rect x="360.5" y="248.5" width="144.0" height="43.0" rx="2.2" fill="#c3e0c2" stroke="#8aa88a" stroke-width="1" filter="url(#sh)"/>
<text x="432.80" y="266.70" font-size="13" text-anchor="middle" font-style="italic" textLength="76.7" lengthAdjust="spacing">«Data Store»</text>
<text x="432.60" y="280.30" font-size="13" text-anchor="middle" textLength="126.3" lengthAdjust="spacing">User Profile Database</text>
<rect x="542.5" y="248.5" width="119.0" height="43.0" rx="2.2" fill="#a9c8e7" stroke="#7b93ae" stroke-width="1" filter="url(#sh)"/>
<text x="602.20" y="266.70" font-size="13" text-anchor="middle" font-style="italic" textLength="100.3" lengthAdjust="spacing">«External Entity»</text>
<text x="602.20" y="280.30" font-size="13" text-anchor="middle" textLength="76.6" lengthAdjust="spacing">Bank System</text>
<rect x="991.5" y="248.5" width="110.0" height="43.0" rx="2.2" fill="#c3e0c2" stroke="#8aa88a" stroke-width="1" filter="url(#sh)"/>
<text x="1046.90" y="266.70" font-size="13" text-anchor="middle" font-style="italic" textLength="76.2" lengthAdjust="spacing">«Data Store»</text>
<text x="1047.00" y="280.30" font-size="13" text-anchor="middle" textLength="92.8" lengthAdjust="spacing">Transaction Log</text>
<ellipse cx="86.2" cy="162.2" rx="84.7" ry="19.8" fill="#f1e69f" stroke="#b3a86e" stroke-width="1" filter="url(#sh)"/>
<text x="80.60" y="156.80" font-size="13" text-anchor="middle" font-style="italic" textLength="58.1" lengthAdjust="spacing">«Process»</text>
<text x="80.40" y="170.60" font-size="13" text-anchor="middle" textLength="115.8" lengthAdjust="spacing">User Authentication</text>
<ellipse cx="326.7" cy="162.2" rx="85.8" ry="19.8" fill="#f1e69f" stroke="#b3a86e" stroke-width="1" filter="url(#sh)"/>
<text x="321.20" y="156.90" font-size="13" text-anchor="middle" font-style="italic" textLength="58.3" lengthAdjust="spacing">«Process»</text>
<text x="321.20" y="170.60" font-size="13" text-anchor="middle" textLength="118.1" lengthAdjust="spacing">Wallet Management</text>
<ellipse cx="825.1" cy="162.4" rx="92.8" ry="20.1" fill="#f1e69f" stroke="#b3a86e" stroke-width="1" filter="url(#sh)"/>
<text x="819.80" y="156.20" font-size="13" text-anchor="middle" font-style="italic" textLength="58.9" lengthAdjust="spacing">«Process»</text>
<text x="819.80" y="170.30" font-size="13" text-anchor="middle" textLength="134.8" lengthAdjust="spacing">Transaction Processing</text>
<ellipse cx="682.4" cy="385.4" rx="76.7" ry="28.3" fill="#f1e69f" stroke="#b3a86e" stroke-width="1" filter="url(#sh)"/>
<text x="668.60" y="375.00" font-size="13" text-anchor="middle" font-style="italic" textLength="58.0" lengthAdjust="spacing">«Process»</text>
<text x="667.90" y="388.40" font-size="13" text-anchor="middle" textLength="104.2" lengthAdjust="spacing">Balance Update &amp;</text>
<text x="668.70" y="401.70" font-size="13" text-anchor="middle" textLength="66.6" lengthAdjust="spacing">Notification</text>
<path d="M57.80,143.00 L49.88,142.22 L54.02,140.74 L53.37,136.39 Z" fill="#333333" stroke="#333333" stroke-width="0.6" stroke-linejoin="miter"/>
<path d="M527.40,56.20 L520.27,59.75 L523.00,56.29 L520.13,52.95 Z" fill="#333333" stroke="#333333" stroke-width="0.6" stroke-linejoin="miter"/>
<path d="M319.70,141.80 L314.19,136.05 L318.30,137.63 L320.64,133.89 Z" fill="#333333" stroke="#333333" stroke-width="0.6" stroke-linejoin="miter"/>
<path d="M387.40,147.60 L393.49,142.47 L391.65,146.47 L395.23,149.04 Z" fill="#333333" stroke="#333333" stroke-width="0.6" stroke-linejoin="miter"/>
<path d="M752.00,149.10 L744.20,150.71 L747.72,148.06 L745.80,144.10 Z" fill="#333333" stroke="#333333" stroke-width="0.6" stroke-linejoin="miter"/>
<path d="M648.30,58.10 L655.70,55.15 L652.69,58.37 L655.28,61.94 Z" fill="#333333" stroke="#333333" stroke-width="0.6" stroke-linejoin="miter"/>
<path d="M648.50,58.10 L655.98,55.36 L652.88,58.49 L655.37,62.13 Z" fill="#333333" stroke="#333333" stroke-width="0.6" stroke-linejoin="miter"/>
<path d="M648.50,58.10 L655.89,55.12 L652.89,58.36 L655.49,61.91 Z" fill="#333333" stroke="#333333" stroke-width="0.6" stroke-linejoin="miter"/>
<path d="M200.80,261.90 L193.13,264.02 L196.46,261.15 L194.28,257.32 Z" fill="#333333" stroke="#333333" stroke-width="0.6" stroke-linejoin="miter"/>
<path d="M265.90,177.00 L260.77,183.09 L261.90,178.84 L257.94,176.91 Z" fill="#333333" stroke="#333333" stroke-width="0.6" stroke-linejoin="miter"/>
<path d="M360.00,251.90 L352.16,253.31 L355.75,250.75 L353.93,246.74 Z" fill="#333333" stroke="#333333" stroke-width="0.6" stroke-linejoin="miter"/>
<path d="M380.90,178.60 L388.84,178.02 L385.00,180.19 L386.39,184.37 Z" fill="#333333" stroke="#333333" stroke-width="0.6" stroke-linejoin="miter"/>
<path d="M583.20,247.20 L575.98,243.84 L580.39,243.82 L581.21,239.49 Z" fill="#333333" stroke="#333333" stroke-width="0.6" stroke-linejoin="miter"/>
<path d="M780.70,181.30 L775.25,187.11 L776.61,182.92 L772.75,180.78 Z" fill="#333333" stroke="#333333" stroke-width="0.6" stroke-linejoin="miter"/>
<path d="M707.90,356.60 L709.61,348.82 L710.59,353.12 L714.99,352.98 Z" fill="#333333" stroke="#333333" stroke-width="0.6" stroke-linejoin="miter"/>
<path d="M990.70,253.50 L982.88,254.98 L986.44,252.39 L984.59,248.40 Z" fill="#333333" stroke="#333333" stroke-width="0.6" stroke-linejoin="miter"/>
<path d="M914.30,169.10 L922.00,167.09 L918.63,169.91 L920.75,173.77 Z" fill="#333333" stroke="#333333" stroke-width="0.6" stroke-linejoin="miter"/>
<path d="M606.10,380.80 L598.64,383.60 L601.71,380.44 L599.20,376.82 Z" fill="#333333" stroke="#333333" stroke-width="0.6" stroke-linejoin="miter"/>
<path d="M315.40,286.10 L323.22,284.60 L319.66,287.19 L321.53,291.18 Z" fill="#333333" stroke="#333333" stroke-width="0.6" stroke-linejoin="miter"/>
<path d="M648,58.1 L655.6,54 L654.7,58.4 L655.4,63 Z" fill="#333333" stroke="#333333" stroke-width="0.5"/>
<text x="43.80" y="114.10" font-size="12" text-anchor="start" textLength="94.5" lengthAdjust="spacing">Login Credentials</text>
<text x="194.80" y="114.10" font-size="12" text-anchor="start" textLength="116.2" lengthAdjust="spacing">Authentication Token</text>
<text x="325.50" y="114.10" font-size="12" text-anchor="start" textLength="152.6" lengthAdjust="spacing">Wallet Initialization Request</text>
<text x="510.00" y="114.10" font-size="12" text-anchor="start" textLength="111.0" lengthAdjust="spacing">User Profile Request</text>
<text x="659.50" y="114.10" font-size="12" text-anchor="start" textLength="129.8" lengthAdjust="spacing">Funds Transfer Request</text>
<text x="806.70" y="114.10" font-size="12" text-anchor="start" textLength="136.9" lengthAdjust="spacing">Transaction Confirmation</text>
<text x="958.70" y="114.10" font-size="12" text-anchor="start" textLength="105.3" lengthAdjust="spacing">Transaction History</text>
<text x="128.10" y="219.60" font-size="12" text-anchor="start" textLength="63.6" lengthAdjust="spacing">Wallet Data</text>
<text x="227.00" y="219.60" font-size="12" text-anchor="start" textLength="63.3" lengthAdjust="spacing">Wallet Data</text>
<text x="322.70" y="219.60" font-size="12" text-anchor="start" textLength="92.3" lengthAdjust="spacing">User Profile Data</text>
<text x="430.20" y="219.60" font-size="12" text-anchor="start" textLength="91.1" lengthAdjust="spacing">User Profile Data</text>
<text x="580.00" y="219.60" font-size="12" text-anchor="start" textLength="105.0" lengthAdjust="spacing">Transaction Details</text>
<text x="720.00" y="219.60" font-size="12" text-anchor="start" textLength="83.0" lengthAdjust="spacing">Bank Response</text>
<text x="872.60" y="219.60" font-size="12" text-anchor="start" textLength="137.4" lengthAdjust="spacing">Transaction Confirmation</text>
<text x="1028.60" y="219.60" font-size="12" text-anchor="start" textLength="85.6" lengthAdjust="spacing">Transaction Log</text>
<text x="1125.30" y="219.60" font-size="12" text-anchor="start" textLength="112.7" lengthAdjust="spacing">Notification Message</text>
<text x="792.00" y="273.90" font-size="12" text-anchor="start" textLength="134.6" lengthAdjust="spacing">Balance Update Request</text>
<text x="352.50" y="329.30" font-size="12" text-anchor="start" textLength="72.3" lengthAdjust="spacing">Balance Data</text>
<text x="485.30" y="329.30" font-size="12" text-anchor="start" textLength="92.6" lengthAdjust="spacing">Updated Balance</text>
<g>
<circle cx="1083.2" cy="15.2" r="14.4" fill="#fff" stroke="#93abbb" stroke-width="1.3"/>
<clipPath id="gc"><circle cx="1083.2" cy="15.2" r="12.6"/></clipPath>
<circle cx="1083.2" cy="15.2" r="12.6" fill="#a6d3f1"/>
<g clip-path="url(#gc)" stroke="#fff" stroke-width="0.9" fill="none">
<line x1="1068" y1="8.4" x2="1099" y2="8.4"/><line x1="1068" y1="15.2" x2="1099" y2="15.2"/><line x1="1068" y1="22" x2="1099" y2="22"/>
<ellipse cx="1083.2" cy="15.2" rx="5.8" ry="13"/><line x1="1083.2" y1="0" x2="1083.2" y2="30"/>
</g>
<path d="M1088.4,6.9 L1098.6,17 L1088.4,27.1 L1078.2,17 Z" fill="#fff"/>
<path d="M1088.4,7.9 L1097.5,17 L1088.4,26.1 L1079.3,17 Z" fill="#d6616b"/>
<path d="M1088.4,12.3 L1091.6,15.5 L1088.4,18.7 L1085.2,15.5 Z" fill="#fff"/>
<path d="M1079.2,21.3 L1088.4,30.6 L1097.6,21.3" fill="none" stroke="#fff" stroke-width="3.8"/>
<path d="M1079.9,21.6 L1088.4,30 L1096.9,21.6" fill="none" stroke="#d6616b" stroke-width="2"/>
</g>
<text x="1105.2" y="12.2" font-size="10" font-weight="bold" style="fill:#727272;stroke:none" textLength="132.5" lengthAdjust="spacingAndGlyphs">AI Chatbot | Visual Modeling</text>
<text x="1105.6" y="27.2" font-size="10" style="fill:#a3a3a3;stroke:none" textLength="126.5" lengthAdjust="spacingAndGlyphs">Powered by Visual Paradigm</text>
</svg></body></html>
